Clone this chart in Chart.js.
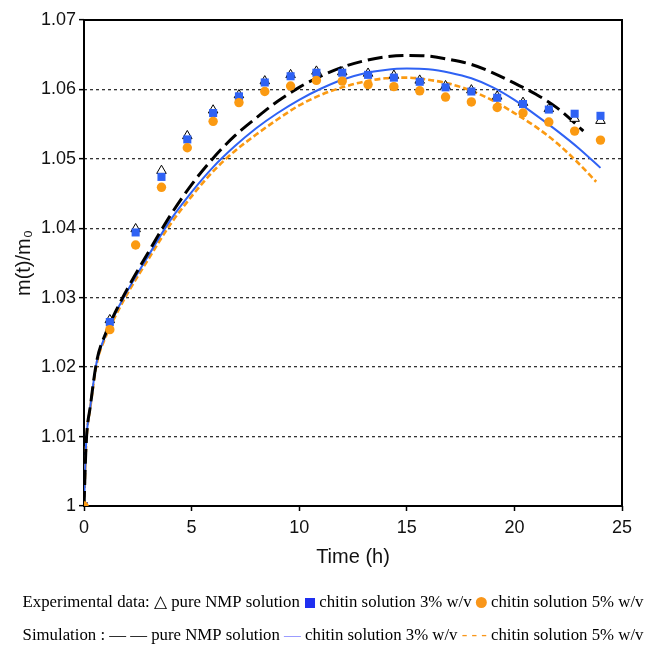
<!DOCTYPE html>
<html>
<head>
<meta charset="utf-8">
<script src="https://cdn.jsdelivr.net/npm/chart.js@4/dist/chart.umd.min.js"></script>
<style>
  body { margin: 0; background: #fff; }
  canvas { display: block; }
</style>
</head>
<body>
<canvas id="myChart" width="647" height="647"></canvas>
<script>
// experimental sampling times (h) and measured mass ratios
var expTime = [0, 1.2, 2.4, 3.6, 4.8, 6, 7.2, 8.4, 9.6, 10.8, 12, 13.2, 14.4, 15.6, 16.8, 18, 19.2, 20.4, 21.6, 22.8, 24];
var expNmp = [1.0, 1.0268, 1.0399, 1.0483, 1.0533, 1.0570, 1.0592, 1.0612, 1.0621, 1.0626, 1.0625, 1.0623, 1.0620, 1.0613, 1.0605, 1.0599, 1.0590, 1.0581, 1.0572, 1.0558, 1.0555];
var expChitin3 = [1.0, 1.0265, 1.0394, 1.0474, 1.0528, 1.0566, 1.0590, 1.0610, 1.0619, 1.0624, 1.0624, 1.0621, 1.0617, 1.0611, 1.0603, 1.0597, 1.0588, 1.0579, 1.0571, 1.0565, 1.0562];
var expChitin5 = [1.0, 1.0254, 1.0376, 1.0459, 1.0516, 1.0554, 1.0581, 1.0597, 1.0605, 1.0613, 1.0612, 1.0607, 1.0604, 1.0598, 1.0589, 1.0582, 1.0574, 1.0566, 1.0553, 1.0540, 1.0527];

// simulated curves
var simTimeNmp = [0, 0.1, 0.3, 0.6, 1, 1.5, 2, 3, 4, 5, 6, 7, 8, 9, 10, 11, 12, 13, 14, 15, 16, 17, 18, 19, 20, 21, 22, 23, 23.2];
var simNmp = [1.0, 1.0090, 1.0145, 1.0210, 1.0248, 1.0282, 1.0312, 1.0366, 1.0418, 1.0463, 1.0501, 1.0533, 1.0559, 1.0583, 1.0603, 1.0619, 1.0632, 1.0641, 1.0647, 1.0649, 1.0648, 1.0643, 1.0636, 1.0624, 1.0609, 1.0593, 1.0573, 1.0546, 1.0540];
var simTime3 = [0, 0.1, 0.3, 0.6, 1, 1.5, 2, 3, 4, 5, 6, 7, 8, 9, 10, 11, 12, 13, 14, 15, 16, 17, 18, 19, 20, 21, 22, 23, 24];
var simChitin3 = [1.0, 1.0090, 1.0145, 1.0209, 1.0246, 1.0280, 1.0309, 1.0361, 1.0411, 1.0452, 1.0488, 1.0518, 1.0544, 1.0566, 1.0585, 1.0601, 1.0614, 1.0623, 1.0628, 1.0630, 1.0629, 1.0624, 1.0616, 1.0603, 1.0585, 1.0563, 1.0540, 1.0515, 1.0487];
var simTime5 = [0, 0.1, 0.3, 0.6, 1, 1.5, 2, 3, 4, 5, 6, 7, 8, 9, 10, 11, 12, 13, 14, 15, 16, 17, 18, 19, 20, 21, 22, 23, 23.8];
var simChitin5 = [1.0, 1.0088, 1.0143, 1.0206, 1.0243, 1.0276, 1.0305, 1.0356, 1.0405, 1.0446, 1.0482, 1.0511, 1.0535, 1.0557, 1.0577, 1.0592, 1.0603, 1.0611, 1.0616, 1.0617, 1.0614, 1.0608, 1.0598, 1.0584, 1.0566, 1.0546, 1.0522, 1.0493, 1.0467];

var xTicks = [0, 5, 10, 15, 20, 25];
var yTicks = [1, 1.01, 1.02, 1.03, 1.04, 1.05, 1.06, 1.07];

var legendRows = [
  [
    { text: "Experimental data: " },
    { text: "\u25B3" },
    { text: " pure NMP solution " },
    { mark: "square", color: "#1f2ff0" },
    { text: " chitin solution 3% w/v " },
    { mark: "circle", color: "#f9961a" },
    { text: " chitin solution 5% w/v" },
  ],
  [
    { text: "Simulation : " },
    { text: "\u2014 \u2014" },
    { text: " pure NMP solution " },
    { text: "\u2014", color: "#8a8cff" },
    { text: " chitin solution 3% w/v " },
    { text: "- - -", color: "#f9961a" },
    { text: " chitin solution 5% w/v" },
  ],
];

var blue = "#2f62f4";
var orange = "#fb9a12";
var sans = "'Liberation Sans', Arial, sans-serif";

function pairs(xs, ys) {
  return xs.map(function (x, i) {
    return { x: x, y: ys[i] };
  });
}

// box round the plot area
var frame = {
  id: "frame",
  beforeDatasetsDraw: function (chart) {
    var a = chart.chartArea;
    var ctx = chart.ctx;
    ctx.save();
    ctx.strokeStyle = "#000";
    ctx.lineWidth = 2;
    ctx.strokeRect(a.left, a.top, a.right - a.left, a.bottom - a.top);
    ctx.restore();
  },
};

// two-line key under the axes
var keyRows = {
  id: "keyRows",
  afterDraw: function (chart) {
    var ctx = chart.ctx;
    ctx.save();
    ctx.font = "16.8px 'Liberation Serif', 'Times New Roman', serif";
    ctx.textBaseline = "middle";
    var rowY = [603, 636];
    legendRows.forEach(function (row, r) {
      var widths = row.map(function (p) {
        return p.mark ? 11 : ctx.measureText(p.text).width;
      });
      var total = widths.reduce(function (s, w) { return s + w; }, 0);
      var x = 333 - total / 2;
      var y = rowY[r];
      row.forEach(function (p, i) {
        if (p.mark === "square") {
          ctx.fillStyle = p.color;
          ctx.fillRect(x + 1, y - 5, 10, 10);
        } else if (p.mark === "circle") {
          ctx.fillStyle = p.color;
          ctx.beginPath();
          ctx.arc(x + 5.5, y - 0.5, 5.5, 0, Math.PI * 2);
          ctx.fill();
        } else {
          ctx.fillStyle = p.color || "#000";
          ctx.fillText(p.text, x, y);
        }
        x += widths[i];
      });
    });
    ctx.restore();
  },
};

new Chart("myChart", {
  type: "scatter",
  data: {
    datasets: [
      {
        label: "pure NMP solution",
        data: pairs(expTime, expNmp),
        pointStyle: "triangle",
        pointRadius: 5.5,
        backgroundColor: "#fff",
        borderColor: "#000",
        borderWidth: 1,
        order: 3,
      },
      {
        label: "chitin solution 3% w/v",
        data: pairs(expTime, expChitin3),
        pointStyle: "rect",
        pointRadius: 5.7,
        backgroundColor: blue,
        borderColor: blue,
        borderWidth: 0,
        order: 2,
      },
      {
        label: "chitin solution 5% w/v",
        data: pairs(expTime, expChitin5),
        pointStyle: "circle",
        pointRadius: 4.7,
        backgroundColor: orange,
        borderColor: orange,
        borderWidth: 0,
        order: 1,
      },
      {
        label: "simulation pure NMP",
        data: pairs(simTimeNmp, simNmp),
        showLine: true,
        pointRadius: 0,
        borderColor: "#000",
        borderWidth: 3,
        borderDash: [15, 6],
        cubicInterpolationMode: "monotone",
        order: 10,
      },
      {
        label: "simulation chitin 3%",
        data: pairs(simTime3, simChitin3),
        showLine: true,
        pointRadius: 0,
        borderColor: blue,
        borderWidth: 2,
        cubicInterpolationMode: "monotone",
        order: 11,
      },
      {
        label: "simulation chitin 5%",
        data: pairs(simTime5, simChitin5),
        showLine: true,
        pointRadius: 0,
        borderColor: orange,
        borderWidth: 2.6,
        borderDash: [6, 3],
        cubicInterpolationMode: "monotone",
        order: 12,
      },
    ],
  },
  options: {
    responsive: false,
    animation: false,
    layout: {
      padding: { top: 20, right: 25, left: 0, bottom: 77 },
    },
    plugins: {
      legend: { display: false },
      tooltip: { enabled: false },
    },
    scales: {
      x: {
        type: "linear",
        min: 0,
        max: 25,
        afterBuildTicks: function (scale) {
          scale.ticks = xTicks.map(function (v) { return { value: v }; });
        },
        afterFit: function (scale) {
          scale.height = 64;
        },
        border: { display: false },
        grid: {
          drawOnChartArea: false,
          tickLength: 5,
          tickColor: "#000",
          tickWidth: 1.5,
        },
        ticks: {
          color: "#111",
          padding: 6,
          font: { family: sans, size: 18 },
        },
        title: {
          display: true,
          text: "Time (h)",
          color: "#111",
          padding: { top: 0, bottom: 1 },
          font: { family: sans, size: 20 },
        },
      },
      y: {
        min: 1,
        max: 1.07,
        afterBuildTicks: function (scale) {
          scale.ticks = yTicks.map(function (v) { return { value: v }; });
        },
        afterFit: function (scale) {
          scale.width = 84;
        },
        border: { display: false, dash: [3, 3] },
        grid: {
          color: function (c) {
            return c.index === 0 || c.index === yTicks.length - 1 ? "rgba(0,0,0,0)" : "#333";
          },
          lineWidth: 1.3,
          tickLength: 5,
          tickColor: "#000",
          tickWidth: 1.5,
          tickBorderDash: [],
        },
        ticks: {
          color: "#111",
          padding: 3,
          font: { family: sans, size: 18 },
          callback: function (v) {
            return String(+v.toFixed(2));
          },
        },
        title: {
          display: true,
          text: "m(t)/m\u2080",
          color: "#111",
          padding: { top: 12, bottom: 0 },
          font: { family: sans, size: 20 },
        },
      },
    },
  },
  plugins: [frame, keyRows],
});
</script>
</body>
</html>
